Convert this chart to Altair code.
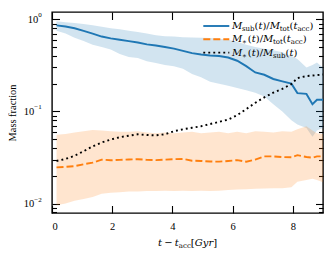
import altair as alt
import pandas as pd

# ---------------- data ----------------
t = [0.15, 0.45, 0.75, 1.05, 1.35, 1.65, 1.95, 2.25, 2.55, 2.85, 3.15, 3.45, 3.75, 4.05, 4.35, 4.65,
     4.95, 5.25, 5.55, 5.85, 6.15, 6.45, 6.75, 7.05, 7.35, 7.65, 7.95, 8.15, 8.45, 8.65, 8.8, 9.0]
msub_med = [0.86, 0.835, 0.80, 0.75, 0.70, 0.65, 0.62, 0.60, 0.58, 0.56, 0.535, 0.52, 0.50, 0.48, 0.455, 0.43,
            0.415, 0.405, 0.40, 0.385, 0.355, 0.31, 0.265, 0.25, 0.225, 0.212, 0.20, 0.158, 0.155, 0.12, 0.134, 0.134]
msub_lo = [0.75, 0.70, 0.63, 0.58, 0.53, 0.50, 0.47, 0.42, 0.39, 0.38, 0.35, 0.335, 0.32, 0.31, 0.29, 0.255,
           0.235, 0.21, 0.20, 0.19, 0.18, 0.17, 0.16, 0.145, 0.12, 0.10, 0.08, 0.072, 0.066, 0.053, 0.062, 0.066]
msub_hi = [0.95, 0.93, 0.91, 0.89, 0.86, 0.83, 0.80, 0.78, 0.75, 0.73, 0.70, 0.67, 0.655, 0.65, 0.64, 0.635,
           0.63, 0.625, 0.615, 0.60, 0.57, 0.53, 0.50, 0.48, 0.46, 0.44, 0.40, 0.37, 0.30, 0.32, 0.34, 0.30]
mstar_med = [0.0247, 0.0250, 0.0255, 0.0267, 0.0278, 0.0300, 0.0295, 0.0298, 0.0301, 0.0303, 0.0298, 0.0296,
             0.0300, 0.0303, 0.0305, 0.0292, 0.0290, 0.0286, 0.0285, 0.0290, 0.0296, 0.0285, 0.0300, 0.0325,
             0.0325, 0.0320, 0.0318, 0.0335, 0.0320, 0.0315, 0.0325, 0.0326]
mstar_lo = [0.0096, 0.0100, 0.0107, 0.0112, 0.0118, 0.0128, 0.0131, 0.0133, 0.0135, 0.0135, 0.0137, 0.0137,
            0.0138, 0.0137, 0.0138, 0.0137, 0.0138, 0.0137, 0.0138, 0.0140, 0.0142, 0.0143, 0.0145, 0.0146,
            0.0147, 0.0147, 0.0150, 0.0172, 0.0180, 0.0186, 0.0180, 0.0170]
mstar_hi = [0.056, 0.057, 0.059, 0.061, 0.063, 0.062, 0.061, 0.060, 0.060, 0.061, 0.059, 0.058, 0.059, 0.058,
            0.059, 0.060, 0.058, 0.059, 0.060, 0.058, 0.060, 0.058, 0.061, 0.060, 0.059, 0.061, 0.060, 0.064,
            0.069, 0.062, 0.058, 0.057]
ratio_med = [0.0290, 0.0305, 0.0330, 0.0370, 0.0418, 0.0460, 0.0495, 0.0525, 0.0545, 0.0565, 0.0555, 0.0550,
             0.0565, 0.0610, 0.0640, 0.0665, 0.0690, 0.0730, 0.0770, 0.0815, 0.0910, 0.1060, 0.1240, 0.1420,
             0.1600, 0.1760, 0.1980, 0.2300, 0.2420, 0.2450, 0.2480, 0.2520]

x_ticks = [0, 2, 4, 6, 8]
y_major = [0.01, 0.1, 1.0]
y_minor = [0.008, 0.009] + [k / 100 for k in range(2, 10)] + [k / 10 for k in range(2, 10)]
y_tick_base = ["10", "10", "10"]
y_tick_exp = ["−2", "−1", "0"]

# legend / title text as math pieces: (text, style, subscript)
legend_rows = [
    [("M", "i", 0), ("sub", "r", 1), ("(", "r", 0), ("t", "i", 0), (")/", "r", 0), ("M", "i", 0),
     ("tot", "r", 1), ("(", "r", 0), ("t", "i", 0), ("acc", "r", 1), (")", "r", 0)],
    [("M", "i", 0), ("∗", "r", 1), ("(", "r", 0), ("t", "i", 0), (")/", "r", 0), ("M", "i", 0),
     ("tot", "r", 1), ("(", "r", 0), ("t", "i", 0), ("acc", "r", 1), (")", "r", 0)],
    [("M", "i", 0), ("∗", "r", 1), ("(", "r", 0), ("t", "i", 0), (")/", "r", 0), ("M", "i", 0),
     ("sub", "r", 1), ("(", "r", 0), ("t", "i", 0), (")", "r", 0)],
]
xtitle_pieces = [("t", "i", 0), (" ", "", 0), ("−", "r", 0), (" ", "", 0), ("t", "i", 0), ("acc", "r", 1),
                 ("[", "r", 0), ("Gyr", "i", 0), ("]", "r", 0)]

# ---------------- styling ----------------
BLUE, ORANGE = "#1f77b4", "#ff7f0e"
SERIF = "Liberation Serif"
MATH = "DejaVu Serif"
W, H = 271, 201
LW = 1.9

DV = {
    "r": {"(": .390, ")": .390, "/": .337, "s": .513, "u": .643, "b": .640, "t": .401, "o": .602,
          "a": .596, "c": .561, "[": .390, "]": .390, "−": .838, "∗": .838},
    "i": {"M": .996, "t": .401, "G": .777, "y": .581, "r": .481},
}
TIMES = {"0": .5, "1": .5, "2": .5, "−": .564}


def layout(pieces, x0, base, f, tag):
    rows, x = [], x0
    for txt, style, sub in pieces:
        if txt == " ":
            x += 0.222 * f
            continue
        size = f * 0.7 if sub else f
        rows.append(dict(s=txt, px=x, py=base + (1.8 if sub else 0), fs=size,
                         st=style, tag=tag))
        x += sum(DV[style][c] for c in txt) * size
    return rows, x - x0


# legend geometry
leg_y = [14.0, 27.3, 40.6]
leg_x0, leg_x1, leg_tx = 151.3, 177.3, 180.0
txt_rows = []
for i, row in enumerate(legend_rows):
    r, _ = layout(row, leg_tx, leg_y[i] + 3.1, 10, "leg")
    txt_rows += r
_, tw = layout(xtitle_pieces, 0, 0, 10, "tt")
r, _ = layout(xtitle_pieces, W / 2 - tw / 2, 234.0, 10, "tt")
txt_rows += r
tdf = pd.DataFrame(txt_rows)

# y tick labels: "10" plus a superscript exponent, right edge 10 px left of the axis
SUP = 7.0
ylab_df = pd.DataFrame(dict(
    v=y_major, base=y_tick_base, exp=y_tick_exp,
    xb=[-10.3 - sum(TIMES[c] for c in e) * SUP for e in y_tick_exp]))

df = pd.DataFrame(dict(t=t, msub_med=msub_med, msub_lo=msub_lo, msub_hi=msub_hi,
                       mstar_med=mstar_med, mstar_lo=mstar_lo, mstar_hi=mstar_hi,
                       ratio_med=ratio_med))

xs = alt.Scale(domain=[0, 9], nice=False, zero=False)
ys = alt.Scale(type="log", domain=[0.0079, 1.2], nice=False)

ax_x_lab = alt.Axis(values=x_ticks, format="d", ticks=False, domain=False, grid=False,
                    labelFont=SERIF, labelFontSize=10.5, labelColor="black", labelPadding=8.5, title=None)
ax_y_lab = alt.Axis(values=y_major, ticks=False, domain=False, grid=False, labels=False,
                    title="Mass fraction", titleFont=SERIF, titleFontSize=10.4, titleFontWeight="normal",
                    titleColor="black", titleAngle=270, titleX=-40, titleY=H / 2,
                    titleAlign="center", titleBaseline="middle")


def tick_axis(orient, offset, values, size):
    return alt.Axis(orient=orient, offset=offset, values=values, tickSize=size, tickWidth=1.1,
                    tickColor="black", labels=False, domain=False, grid=False, title=None)


base = alt.Chart(df)

blue_band = base.mark_area(color=BLUE, opacity=0.2).encode(
    x=alt.X("t:Q", scale=xs, axis=ax_x_lab),
    y=alt.Y("msub_lo:Q", scale=ys, axis=ax_y_lab),
    y2="msub_hi:Q")
orange_band = base.mark_area(color=ORANGE, opacity=0.2).encode(
    x=alt.X("t:Q", scale=xs, axis=tick_axis("top", -H, x_ticks, 7.5)),
    y=alt.Y("mstar_lo:Q", scale=ys, axis=tick_axis("right", -W, y_major, 7.5)),
    y2="mstar_hi:Q")
blue_line = base.mark_line(color=BLUE, strokeWidth=LW).encode(
    x=alt.X("t:Q", scale=xs, axis=tick_axis("bottom", -H, x_ticks, 7.5)),
    y=alt.Y("msub_med:Q", scale=ys, axis=tick_axis("right", -W, y_minor, 4.5)))
orange_line = base.mark_line(color=ORANGE, strokeWidth=LW, strokeDash=[7, 3]).encode(
    x=alt.X("t:Q", scale=xs, axis=None),
    y=alt.Y("mstar_med:Q", scale=ys, axis=tick_axis("left", -W, y_major, 7.5)))
ratio_line = base.mark_line(color="black", strokeWidth=LW, strokeDash=[1.9, 3.1]).encode(
    x=alt.X("t:Q", scale=xs, axis=None),
    y=alt.Y("ratio_med:Q", scale=ys, axis=tick_axis("left", -W, y_minor, 4.5)))

# y tick labels
ylab = alt.Chart(ylab_df)
ylab_base = ylab.mark_text(font=SERIF, fontSize=10.5, align="right", baseline="middle",
                           color="black", dy=0.5).encode(
    x=alt.X("xb:Q", scale=None, axis=None),
    y=alt.Y("v:Q", scale=ys, axis=None), text="base:N")
ylab_exp = ylab.mark_text(font=SERIF, fontSize=SUP, align="left", baseline="middle",
                          color="black", dy=-4).encode(
    x=alt.X("xb:Q", scale=None, axis=None),
    y=alt.Y("v:Q", scale=ys, axis=None), text="exp:N")

one = pd.DataFrame({"k": [0]})
leg_styles = [dict(color=BLUE), dict(color=ORANGE, strokeDash=[7, 3]), dict(color="black", strokeDash=[1.9, 3.1])]
leg_rules = [
    alt.Chart(one).mark_rule(strokeWidth=LW, **st).encode(
        x=alt.value(leg_x0), x2=alt.value(leg_x1), y=alt.value(yy))
    for st, yy in zip(leg_styles, leg_y)
]

tbase = alt.Chart(tdf)
txt_i = tbase.transform_filter("datum.st == 'i'").mark_text(
    font=MATH, fontStyle="italic", align="left", baseline="alphabetic", color="black").encode(
    x=alt.X("px:Q", scale=None, axis=None), y=alt.Y("py:Q", scale=None, axis=None),
    size=alt.Size("fs:Q", scale=None, legend=None), text="s:N")
txt_r = tbase.transform_filter("datum.st == 'r'").mark_text(
    font=MATH, align="left", baseline="alphabetic", color="black").encode(
    x=alt.X("px:Q", scale=None, axis=None), y=alt.Y("py:Q", scale=None, axis=None),
    size=alt.Size("fs:Q", scale=None, legend=None), text="s:N")

chart = alt.layer(
    blue_band, orange_band, blue_line, orange_line, ratio_line, ylab_base, ylab_exp,
    *leg_rules, txt_i, txt_r
).resolve_axis(x="independent", y="independent").properties(
    width=W, height=H,
    autosize=alt.AutoSizeParams(type="none"),
    padding={"left": 44, "top": 4, "right": 2, "bottom": 36},
).configure_view(stroke="black", strokeWidth=1.4)

chart.save("out.html", embed_options={"renderer": "svg", "actions": False})
